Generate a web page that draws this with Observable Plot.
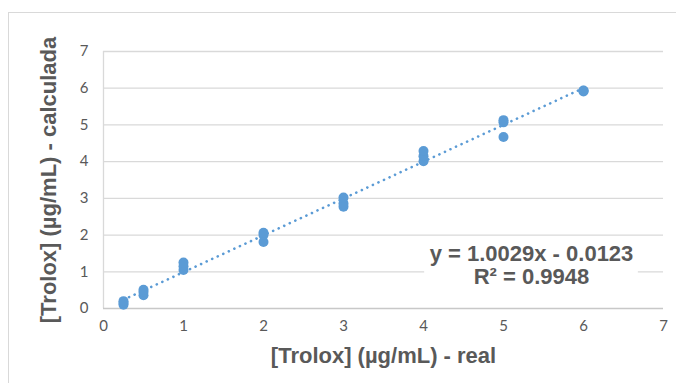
<!DOCTYPE html>
<html>
<head>
<meta charset="utf-8">
<script src="https://cdn.jsdelivr.net/npm/d3@7"></script>
<script src="https://cdn.jsdelivr.net/npm/@observablehq/plot@0.6"></script>
<style>
  html, body { margin: 0; padding: 0; background: #fff; }
  #wrap { position: relative; width: 676px; height: 383px; overflow: hidden; }
  #border { position: absolute; left: 8px; top: 12px; width: 700px; height: 400px;
            border-left: 1px solid #d9d9d9; border-top: 1px solid #d9d9d9; }
  #chart { position: absolute; left: 0; top: 0; }
</style>
</head>
<body>
<div id="wrap"><div id="border"></div><div id="chart"></div></div>
<script>
// Trolox concentration: known (real) vs. calculated from the calibration
const realConc = [
  0.25, 0.25, 0.25,
  0.5, 0.5, 0.5,
  1, 1, 1,
  2, 2, 2,
  3, 3, 3,
  4, 4, 4,
  5, 5, 5,
  6, 6, 6
];
const calcConc = [
  0.10, 0.15, 0.20,
  0.36, 0.45, 0.51,
  1.05, 1.15, 1.25,
  1.81, 2.00, 2.06,
  2.77, 2.86, 3.02,
  4.01, 4.15, 4.29,
  4.67, 5.07, 5.13,
  5.91, 5.93, 5.94
];

// Linear fit reported for the series
const slope = 1.0029;
const intercept = -0.0123;
const rSquared = 0.9948;

const axisTicks = [0, 1, 2, 3, 4, 5, 6, 7];
const xTitle = "[Trolox] (µg/mL) - real";
const yTitle = "[Trolox] (µg/mL) - calculada";

const points = realConc.map((x, i) => ({x, y: calcConc[i]}));
const xMin = d3.min(realConc), xMax = d3.max(realConc);
const trend = [xMin, xMax].map(x => ({x, y: slope * x + intercept}));
const eqLabel = `y = ${slope.toFixed(4)}x - ${Math.abs(intercept).toFixed(4)}\nR² = ${rSquared.toFixed(4)}`;

const blue = "#5B9BD5";
const grid = "#d9d9d9";
const textGray = "#595959";
const titleFont = "Liberation Sans, Arial, sans-serif";

const plot = Plot.plot({
  width: 676,
  height: 383,
  marginLeft: 103,
  marginRight: 13,
  marginTop: 51,
  marginBottom: 75,
  style: {background: "transparent", overflow: "visible"},
  x: {domain: [0, 7], ticks: axisTicks},
  y: {domain: [0, 7], ticks: axisTicks},
  marks: [
    Plot.gridY(axisTicks.filter(d => d > 0), {stroke: grid, strokeOpacity: 1, strokeWidth: 1.3}),
    Plot.ruleX([0], {stroke: grid, strokeWidth: 1.3}),
    Plot.ruleY([0], {stroke: "#c8c8c8", strokeWidth: 1.3}),
    Plot.axisX(axisTicks, {tickSize: 0, tickPadding: 12, fontSize: 15, fill: textGray,
      fontFamily: "Lato", label: null}),
    Plot.axisY(axisTicks, {tickSize: 0, tickPadding: 15, fontSize: 15, fill: textGray,
      fontFamily: "Lato", label: null}),
    // dotted linear trendline
    Plot.line(trend, {x: "x", y: "y", stroke: blue, strokeWidth: 2.6,
      strokeDasharray: "0.1,6", strokeLinecap: "round"}),
    Plot.dot(points, {x: "x", y: "y", r: 5, fill: blue, stroke: null}),
    Plot.text([eqLabel], {x: 5.35, y: 1.18, text: d => d, className: "eq-label",
      fontSize: 22, fontWeight: "bold", fill: textGray, fontFamily: titleFont,
      lineHeight: 1.05, textAnchor: "middle"}),
    Plot.text([xTitle], {frameAnchor: "bottom", dy: 47, text: d => d,
      lineAnchor: "middle", textAnchor: "middle",
      fontSize: 22, fontWeight: "bold", fill: textGray, fontFamily: titleFont}),
    Plot.text([yTitle], {frameAnchor: "left", dx: -55, rotate: -90, text: d => d,
      lineAnchor: "middle", textAnchor: "middle",
      fontSize: 22, fontWeight: "bold", fill: textGray, fontFamily: titleFont})
  ]
});

document.getElementById("chart").appendChild(plot);

// White box behind the regression label, as in a spreadsheet trendline label
const eq = plot.querySelector("g.eq-label");
if (eq) {
  const bb = eq.getBBox();
  const padX = 5, padY = 4;
  const rect = document.createElementNS("http://www.w3.org/2000/svg", "rect");
  rect.setAttribute("x", bb.x - padX);
  rect.setAttribute("y", bb.y - padY);
  rect.setAttribute("width", bb.width + 2 * padX);
  rect.setAttribute("height", bb.height + 2 * padY);
  rect.setAttribute("fill", "#fff");
  eq.parentNode.insertBefore(rect, eq);
}
</script>
</body>
</html>
